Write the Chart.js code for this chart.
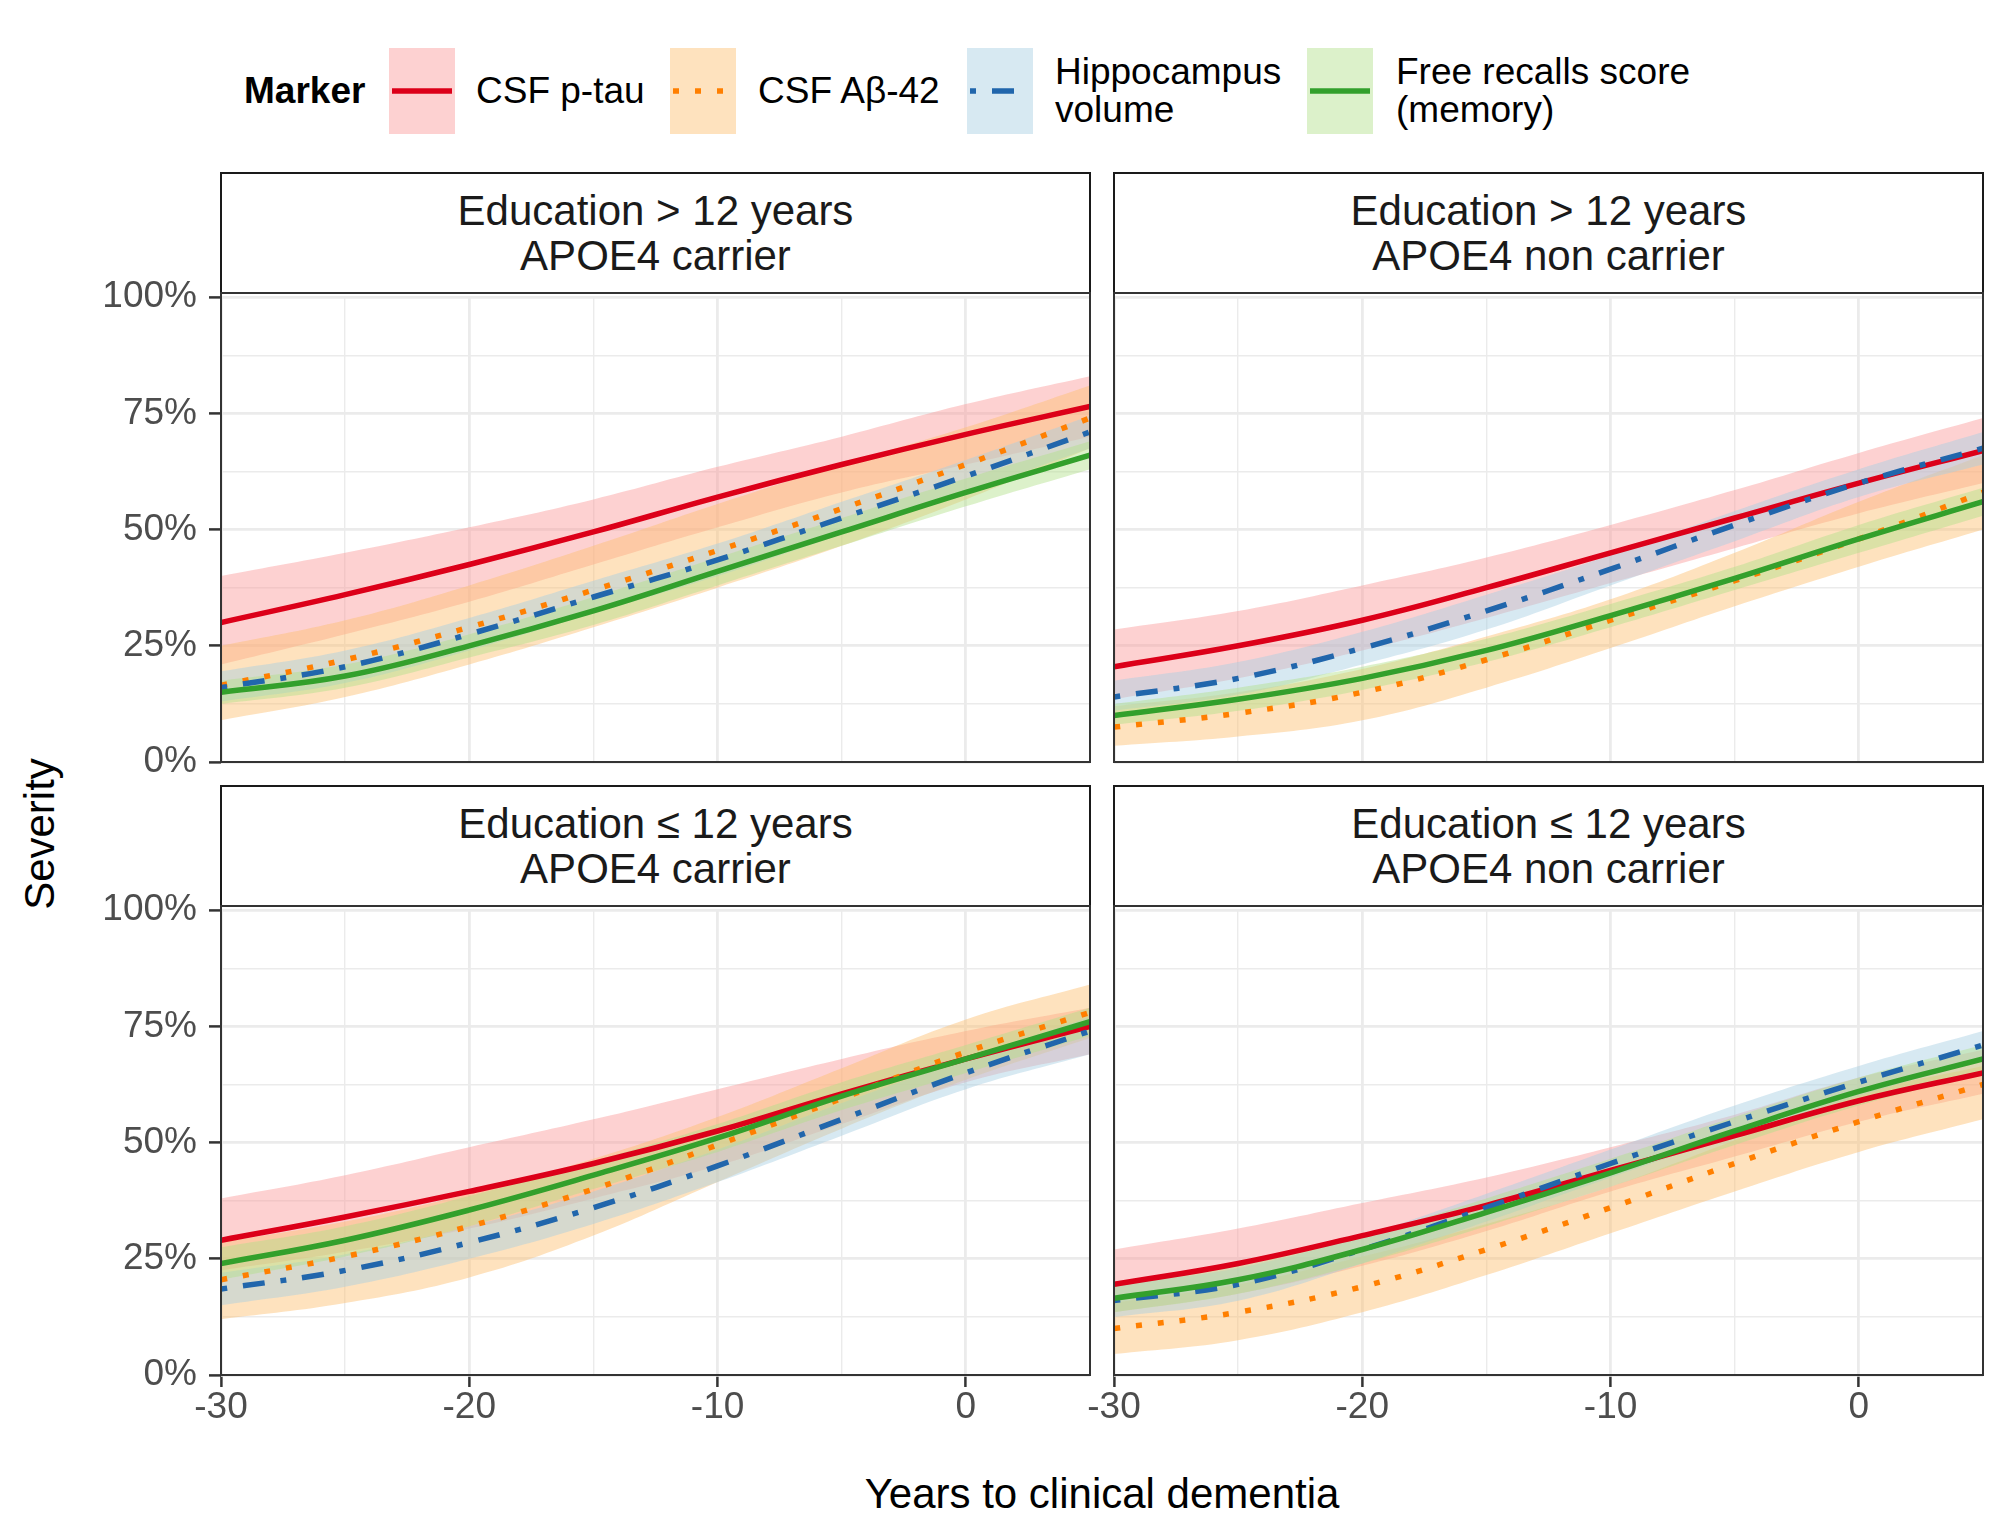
<!DOCTYPE html>
<html><head><meta charset="utf-8">
<script src="https://cdn.jsdelivr.net/npm/chart.js@4.4.1/dist/chart.umd.min.js"></script>
<style>
html,body{margin:0;padding:0;background:#fff;}
body{width:2007px;height:1535px;position:relative;overflow:hidden;font-family:'Liberation Sans',Arial,Helvetica,sans-serif;color:#000;}
canvas{position:absolute;z-index:1;}
.strip{position:absolute;box-sizing:border-box;border:2px solid #1a1a1a;background:#fff;display:flex;align-items:center;justify-content:center;text-align:center;font-size:42px;line-height:45px;color:#1a1a1a;z-index:2;}
.pborder{position:absolute;box-sizing:border-box;border:2px solid #333;z-index:3;pointer-events:none;}
.lab{position:absolute;white-space:nowrap;transform:translateY(-50%);}
.key{position:absolute;top:48px;width:66px;height:86px;}
.key svg{position:absolute;left:0;top:0;}
</style>
</head><body>
<script>
// ---------------- DATA ----------------
const years = [-30, -25, -20, -15, -10, -5, 0, 5];
const markerNames = ['CSF p-tau', 'CSF Aβ-42', 'Hippocampus volume', 'Free recalls score (memory)'];
const yTickLabels = ['0%', '25%', '50%', '75%', '100%'];
const xTickLabels = ['-30', '-20', '-10', '0'];
const panelTitles = [
  ['Education > 12 years', 'APOE4 carrier'],
  ['Education > 12 years', 'APOE4 non carrier'],
  ['Education ≤ 12 years', 'APOE4 carrier'],
  ['Education ≤ 12 years', 'APOE4 non carrier']
];

// Panel 1: Education > 12 years, APOE4 carrier
const p1_ptau_mid = [30, 36, 42.5, 49.5, 57, 64, 70.5, 76.5];
const p1_ptau_hi  = [40, 45, 50.5, 56.5, 63.5, 70, 77, 83];
const p1_ptau_lo  = [21, 27.5, 34.5, 42.5, 50.5, 58, 64, 70];
const p1_ab42_mid = [16.5, 22, 29, 37, 45.5, 54.5, 64, 74];
const p1_ab42_hi  = [25, 30.5, 38, 46.5, 55.5, 64, 72, 81];
const p1_ab42_lo  = [9, 14, 21, 29, 37.5, 46.5, 56.5, 67.5];
const p1_hipp_mid = [16, 20.5, 27.5, 35.5, 43.5, 52.5, 61.5, 71];
const p1_hipp_hi  = [19.5, 24, 31, 39, 47, 56, 65, 74.5];
const p1_hipp_lo  = [13, 17, 24, 32, 40, 49, 58, 67.5];
const p1_mem_mid  = [15, 18.5, 25, 32.5, 41, 49.5, 58, 66];
const p1_mem_hi   = [17.5, 21, 27.5, 35.5, 44, 52.5, 61, 69];
const p1_mem_lo   = [12.5, 16, 22.5, 29.5, 38, 46.5, 55, 63];

// Panel 2: Education > 12 years, APOE4 non carrier
const p2_ptau_mid = [20.5, 25, 30.5, 37.5, 45, 52.5, 60, 67];
const p2_ptau_hi  = [28.5, 32.5, 38, 44, 51, 58.5, 66.5, 74];
const p2_ptau_lo  = [13.5, 18, 24, 31, 38.5, 46, 53.5, 60];
const p2_ab42_mid = [7.5, 10.5, 15, 22, 30.5, 39, 48, 58];
const p2_ab42_hi  = [12, 15, 20, 27, 35, 45, 56, 66];
const p2_ab42_lo  = [3.5, 5.5, 9, 16, 24.5, 33.5, 42, 50];
const p2_hipp_mid = [14, 18, 24.5, 32.5, 41.5, 51, 60, 67.5];
const p2_hipp_hi  = [17.5, 21.5, 28, 36, 44.5, 54, 63, 71];
const p2_hipp_lo  = [11, 14.5, 21, 28.5, 38, 47.5, 57, 64];
const p2_mem_mid  = [10, 13.5, 18, 24, 31.5, 39.5, 48, 56];
const p2_mem_hi   = [12.5, 16, 20.5, 26.5, 34, 42, 51, 59];
const p2_mem_lo   = [8, 11, 15.5, 21.5, 29, 37, 45, 53];

// Panel 3: Education <= 12 years, APOE4 carrier
const p3_ptau_mid = [29, 34, 39.5, 45.5, 52.5, 60.5, 68, 75];
const p3_ptau_hi  = [38, 43, 49, 55, 61.5, 68, 74, 79];
const p3_ptau_lo  = [22.5, 26.5, 31.5, 38, 45, 54, 63, 69];
const p3_ab42_mid = [20.5, 25.5, 32, 40, 49.5, 59.5, 69.5, 78];
const p3_ab42_hi  = [28.5, 33, 39, 46.5, 55.5, 66, 76.5, 84];
const p3_ab42_lo  = [12, 15.5, 21, 30, 41.5, 53, 63.5, 72.5];
const p3_hipp_mid = [18.5, 22.5, 28.5, 36, 45, 55, 65, 74];
const p3_hipp_hi  = [22, 26, 32, 39.5, 48.5, 58.5, 68, 77];
const p3_hipp_lo  = [15, 19, 25, 32.5, 41.5, 51.5, 61.5, 69];
const p3_mem_mid  = [24, 29, 35.5, 43, 51, 60, 68, 76];
const p3_mem_hi   = [27.5, 32, 38.5, 46, 54, 63, 71, 79];
const p3_mem_lo   = [20.5, 25.5, 32, 40, 48, 57, 65, 73];

// Panel 4: Education <= 12 years, APOE4 non carrier
const p4_ptau_mid = [19.5, 24, 30, 36.5, 44, 51.5, 59, 65];
const p4_ptau_hi  = [27, 31.5, 37, 42.5, 49, 56, 64, 70];
const p4_ptau_lo  = [13.5, 17.5, 23.5, 31, 39.5, 47, 54.5, 60.5];
const p4_ab42_mid = [10, 13.5, 19, 27, 36, 45.5, 54.5, 62.5];
const p4_ab42_hi  = [15.5, 19.5, 25.5, 32.5, 40.5, 50.5, 60.5, 66.5];
const p4_ab42_lo  = [4.5, 7.5, 13.5, 21.5, 30.5, 39.5, 48, 55];
const p4_hipp_mid = [16, 19.5, 27, 36, 45.5, 54.5, 63, 71];
const p4_hipp_hi  = [19.5, 23, 30, 39, 48.5, 58, 66.5, 74];
const p4_hipp_lo  = [12.5, 16, 24, 33, 42.5, 51.5, 60, 68];
const p4_mem_mid  = [16.5, 20.5, 27, 35, 43.5, 52.5, 61, 68];
const p4_mem_hi   = [19.5, 23.5, 30, 38, 46.5, 55.5, 64, 71];
const p4_mem_lo   = [13.5, 17.5, 24, 32, 40.5, 49.5, 58, 65];

// ---------------- STYLE ----------------
const FONT = "'Liberation Sans', Arial, Helvetica, sans-serif";
Chart.defaults.font.family = FONT;
const lineColors = ['#DC0019', '#FF7F00', '#2166AC', '#33A02C'];
const ribbonColors = ['rgba(251,154,153,0.45)', 'rgba(253,191,111,0.45)', 'rgba(166,206,227,0.45)', 'rgba(178,223,138,0.45)'];
const dashes = [[], [6, 16], [6, 16, 22, 16], []];
const LW = 5.5;
const TENSION = 0.4;

const panelData = [
  [[p1_ptau_mid, p1_ptau_lo, p1_ptau_hi], [p1_ab42_mid, p1_ab42_lo, p1_ab42_hi], [p1_hipp_mid, p1_hipp_lo, p1_hipp_hi], [p1_mem_mid, p1_mem_lo, p1_mem_hi]],
  [[p2_ptau_mid, p2_ptau_lo, p2_ptau_hi], [p2_ab42_mid, p2_ab42_lo, p2_ab42_hi], [p2_hipp_mid, p2_hipp_lo, p2_hipp_hi], [p2_mem_mid, p2_mem_lo, p2_mem_hi]],
  [[p3_ptau_mid, p3_ptau_lo, p3_ptau_hi], [p3_ab42_mid, p3_ab42_lo, p3_ab42_hi], [p3_hipp_mid, p3_hipp_lo, p3_hipp_hi], [p3_mem_mid, p3_mem_lo, p3_mem_hi]],
  [[p4_ptau_mid, p4_ptau_lo, p4_ptau_hi], [p4_ab42_mid, p4_ab42_lo, p4_ab42_hi], [p4_hipp_mid, p4_hipp_lo, p4_hipp_hi], [p4_mem_mid, p4_mem_lo, p4_mem_hi]]
];

// ---------------- LAYOUT ----------------
const colLeft = [221, 1114];
const PW = 869;
const rowTop = [293, 906];
const PH = 469;
const stripTop = [172, 785];
const YW = 140, XH = 80, PADT = 30, PADR = 30;

function pts(arr) { return years.map((x, i) => ({x: x, y: arr[i]})); }

function el(tag, cls, style, html) {
  const e = document.createElement(tag);
  if (cls) e.className = cls;
  Object.assign(e.style, style || {});
  if (html !== undefined) e.innerHTML = html;
  document.body.appendChild(e);
  return e;
}

function buildDatasets(pd) {
  const order = [3, 2, 1, 0]; // later groups on top (first dataset drawn last)
  const ds = [];
  order.forEach(m => {
    ds.push({data: pts(pd[m][2]), borderColor: 'transparent', borderWidth: 0, pointRadius: 0,
             fill: '+1', backgroundColor: ribbonColors[m], tension: TENSION});
    ds.push({data: pts(pd[m][1]), borderColor: 'transparent', borderWidth: 0, pointRadius: 0,
             fill: false, tension: TENSION});
  });
  order.forEach(m => {
    ds.push({data: pts(pd[m][0]), borderColor: lineColors[m], borderWidth: LW, borderDash: dashes[m],
             borderCapStyle: 'butt', borderJoinStyle: 'round', pointRadius: 0, fill: false,
             tension: TENSION, label: markerNames[m]});
  });
  return ds;
}

for (let p = 0; p < 4; p++) {
  const col = p % 2, row = Math.floor(p / 2);
  const showY = col === 0, showX = row === 1;
  const left = colLeft[col], top = rowTop[row];

  // strip
  el('div', 'strip', {left: (left - 1) + 'px', top: stripTop[row] + 'px', width: (PW + 2) + 'px',
     height: (top - stripTop[row] + 1) + 'px'}, panelTitles[p][0].replace('>', '&gt;') + '<br>' + panelTitles[p][1]);
  // border
  el('div', 'pborder', {left: (left - 1) + 'px', top: (top - 1) + 'px', width: (PW + 2) + 'px', height: (PH + 2) + 'px'});

  const cw = YW + PW + PADR, ch = PADT + PH + XH;
  const cv = document.createElement('canvas');
  cv.width = cw; cv.height = ch;
  cv.style.left = (left - YW) + 'px'; cv.style.top = (top - PADT) + 'px';
  cv.style.width = cw + 'px'; cv.style.height = ch + 'px';
  document.body.appendChild(cv);

  new Chart(cv.getContext('2d'), {
    type: 'line',
    data: {datasets: buildDatasets(panelData[p])},
    options: {
      responsive: false, animation: false, events: [],
      layout: {padding: {top: PADT, right: PADR, left: 0, bottom: 0}},
      plugins: {legend: {display: false}, tooltip: {enabled: false}, filler: {drawTime: 'beforeDatasetsDraw', propagate: false}},
      scales: {
        x: {
          type: 'linear', min: -30, max: 5,
          afterFit: s => { s.height = XH; },
          border: {display: false},
          grid: {
            color: '#EBEBEB',
            lineWidth: c => (c.tick && Math.abs(c.tick.value % 10) < 1e-9) ? 2.8 : 1.4,
            drawTicks: true, tickLength: 12, tickWidth: 2.5,
            tickColor: c => (showX && c.tick && Math.abs(c.tick.value % 10) < 1e-9) ? '#333333' : 'rgba(0,0,0,0)'
          },
          ticks: {
            stepSize: 5, autoSkip: false, maxRotation: 0, padding: 0,
            color: '#4D4D4D', font: {size: 37, family: FONT, lineHeight: 1.1},
            callback: v => {
              if (!showX) return '';
              const s = String(v);
              return xTickLabels.indexOf(s) >= 0 ? s : '';
            }
          }
        },
        y: {
          type: 'linear', min: 0, max: 100,
          afterFit: s => { s.width = YW; },
          border: {display: false},
          grid: {
            color: '#EBEBEB',
            lineWidth: c => (c.tick && Math.abs(c.tick.value % 25) < 1e-9) ? 2.8 : 1.4,
            drawTicks: true, tickLength: 12, tickWidth: 2.5,
            tickColor: c => (showY && c.tick && Math.abs(c.tick.value % 25) < 1e-9) ? '#333333' : 'rgba(0,0,0,0)'
          },
          ticks: {
            stepSize: 12.5, autoSkip: false, padding: 12,
            color: '#4D4D4D', font: {size: 37, family: FONT},
            callback: v => {
              if (!showY) return '';
              const s = v + '%';
              return yTickLabels.indexOf(s) >= 0 ? s : '';
            }
          }
        }
      }
    }
  });
}

// axis titles
el('div', 'lab', {left: '0px', width: '2204px', top: '1494px', textAlign: 'center', fontSize: '42px', color: '#000'}, 'Years to clinical dementia');
el('div', null, {position: 'absolute', left: '40px', top: '834px', fontSize: '42px', whiteSpace: 'nowrap',
   transform: 'translate(-50%,-50%) rotate(-90deg)', color: '#000'}, 'Severity');

// legend
el('div', 'lab', {left: '244px', top: '91px', fontSize: '37px', fontWeight: 'bold'}, 'Marker');
const keyLeft = [389, 670, 967, 1307];
const textLeft = [476, 758, 1055, 1396];
const legendText = ['CSF p-tau', 'CSF Aβ-42', 'Hippocampus<br>volume', 'Free recalls score<br>(memory)'];
for (let m = 0; m < 4; m++) {
  const k = el('div', 'key', {left: keyLeft[m] + 'px', background: ribbonColors[m]});
  const da = dashes[m].length ? ' stroke-dasharray="' + dashes[m].join(' ') + '"' : '';
  k.innerHTML = '<svg width="66" height="86"><line x1="3" y1="43" x2="63" y2="43" stroke="' + lineColors[m] +
    '" stroke-width="' + LW + '" stroke-linecap="butt"' + da + '/></svg>';
  el('div', 'lab', {left: textLeft[m] + 'px', top: '91px', fontSize: '37px', lineHeight: '38px'}, legendText[m]);
}
</script>
</body></html>
